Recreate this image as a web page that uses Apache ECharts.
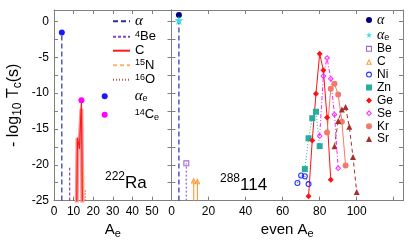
<!DOCTYPE html>
<html><head><meta charset="utf-8">
<script src="https://cdn.jsdelivr.net/npm/echarts@6/dist/echarts.min.js"></script>
<style>html,body{margin:0;padding:0;background:#fff}#c{width:414px;height:244px}</style>
</head><body><div id="c"></div>
<script>
// ---------------- data ----------------
const Y_MIN = -25, Y_MAX = 1.6;
const L_X_MAX = 60, R_X_MAX = 125;
const Y_TICK_LABELS = [-25, -20, -15, -10, -5, 0];
const X_LEFT_LABELS = [0, 10, 20, 30, 40, 50];
const X_RIGHT_LABELS = [0, 20, 40, 60, 80, 100];

// left panel: 222Ra
const L_ALPHA_A = [4], L_ALPHA_LOG = [-1.55];
const L_BE_A = [8], L_BE_LOG = [-20.4];
const L_C_A = [11, 12, 13, 14, 15];
const L_C_LOG = [-40, -16.2, -17.8, -11.0, -40];
const L_C_BROAD_LOG = [-40, -16.3, -17.5, -12.2, -40];
const L_N_A = [15], L_N_LOG = [-20.0];
const L_O_A = [16], L_O_LOG = [-23.3];
const L_ALPHAE_A = [4], L_ALPHAE_LOG = [-1.55];
const L_CE_A = [14], L_CE_LOG = [-11.0];

// right panel: 288 114
const R_ALPHA_A = [4], R_ALPHA_LOG = [0.9];
const R_ALPHAE_A = [4], R_ALPHAE_LOG = [0.15];
const BE_A = [8], BE_LOG = [-19.8];
const C_A = [12, 14], C_LOG = [-22.2, -22.3];
const NI_A = [68, 70, 72, 74], NI_LOG = [-22.55, -21.5, -21.6, -22.7];
const ZN_A = [72, 74, 76, 78, 80], ZN_LOG = [-20.6, -16.3, -13.5, -12.6, -17.4];
const GE_A = [74, 76, 78, 80, 82, 84, 86], GE_LOG = [-24.4, -16.6, -10.1, -4.5, -6.8, -13.4, -22.1];
const SE_A = [80, 82, 84, 86, 88, 90], SE_LOG = [-16.0, -7.6, -5.1, -8.0, -13.0, -20.5];
const KR_A = [84, 86, 88, 90, 92, 94], KR_LOG = [-15.5, -9.4, -8.7, -10.2, -14.0, -20.1];
const SR_A = [88, 90, 92, 94, 96, 98, 100], SR_LOG = [-17.4, -13.9, -12.3, -11.95, -14.7, -18.9, -23.8];

// ---------------- helpers ----------------
const FONT = '"Liberation Sans", Arial, Helvetica, sans-serif';
const SERIF = '"Liberation Serif", "DejaVu Serif", serif';
const AXIS_COLOR = '#808080';
const STAR = 'path://M0,-10L2.35,-3.24L9.51,-3.09L3.8,1.24L5.88,8.09L0,4L-5.88,8.09L-3.8,1.24L-9.51,-3.09L-2.35,-3.24Z';
// thin outline shapes (outer shape + reversed inner shape)
const RING = 'path://M5,0A5,5 0 1,1 5,10A5,5 0 1,1 5,0Z M5,1.8A3.2,3.2 0 1,0 5,8.2A3.2,3.2 0 1,0 5,1.8Z';
const SQ_RING = 'path://M0,0H10V10H0Z M1.8,1.8V8.2H8.2V1.8Z';
const TRI_RING = 'path://M5,0L10,10L0,10Z M5,3.8L2.7,8.6L7.3,8.6Z';
const DIA_RING = 'path://M5,0L10,5L5,10L0,5Z M5,2.3L2.3,5L5,7.7L7.7,5Z';

const pairs = (xs, ys) => xs.map((x, i) => [x, ys[i]]);
const inList = (v, list) => list.some(l => Math.abs(l - v) < 1e-6);

function rich(size, lh) {
  const s = Math.round(size * 0.72);
  return {
    t: { fontSize: size, fontFamily: FONT, color: '#000', lineHeight: lh },
    it: { fontSize: size + 2, fontFamily: SERIF, fontStyle: 'italic', color: '#000', lineHeight: lh },
    sup: { fontSize: s, fontFamily: FONT, color: '#000', verticalAlign: 'top', lineHeight: s },
    sub: { fontSize: s, fontFamily: FONT, color: '#000', verticalAlign: 'bottom', lineHeight: s },
    sp: { width: 22 }
  };
}

function xAx(grid, pos, max, interval, labels, name) {
  return {
    type: 'value', gridIndex: grid, position: pos, min: 0, max: max, interval: interval,
    axisLine: { show: true, onZero: false, lineStyle: { color: AXIS_COLOR, width: 1 } },
    axisTick: { show: true, inside: true, length: 4, lineStyle: { color: AXIS_COLOR } },
    axisLabel: { show: pos === 'bottom', color: '#000', fontSize: 12, fontFamily: FONT, margin: 5,
      formatter: v => inList(v, labels) ? String(v) : '' },
    splitLine: { show: false },
    name: name || '', nameLocation: 'middle', nameGap: 19,
    nameTextStyle: { rich: rich(15, 18) }
  };
}
function yAx(grid, pos, showLabel, name) {
  return {
    type: 'value', gridIndex: grid, position: pos, min: Y_MIN, max: Y_MAX, interval: 2.5,
    axisLine: { show: true, onZero: false, lineStyle: { color: AXIS_COLOR, width: 1 } },
    axisTick: { show: true, inside: true, length: 4, lineStyle: { color: AXIS_COLOR } },
    axisLabel: { show: showLabel, color: '#000', fontSize: 12, fontFamily: FONT, margin: 5,
      formatter: v => inList(v, Y_TICK_LABELS) ? String(v) : '' },
    splitLine: { show: false },
    name: name || '', nameLocation: 'middle', nameGap: 30,
    nameTextStyle: { rich: rich(16, 20) }
  };
}

function dropSeries(name, xs, ys, xi, color, type, width) {
  return xs.map((x, i) => ({
    name: i === 0 ? name : undefined, type: 'line', xAxisIndex: xi, yAxisIndex: xi,
    data: [[x, Y_MIN], [x, ys[i]]], symbol: 'none', silent: true,
    lineStyle: { color: color, type: type, width: width }, itemStyle: { color: color }, z: 2
  }));
}
function scat(name, xs, ys, xi, symbol, size, color) {
  return {
    name, type: 'scatter', xAxisIndex: xi, yAxisIndex: xi, data: pairs(xs, ys),
    symbol, symbolSize: size,
    itemStyle: { color: color, borderWidth: 0, opacity: 1 },
    z: 5
  };
}
function curve(name, xs, ys, symbol, size, color, ltype) {
  return {
    name, type: 'line', xAxisIndex: 2, yAxisIndex: 2, data: pairs(xs, ys),
    symbol, symbolSize: size, showSymbol: true,
    lineStyle: { color: color, type: ltype, width: 1 },
    itemStyle: { color: color, borderWidth: 0 },
    z: 4
  };
}

const LABELS = {
  L_alpha: '{it|α}', L_Be: '{sup|4}{t|Be}', L_C: '{t|C}', L_N: '{sup|15}{t|N}', L_O: '{sup|16}{t|O}',
  L_alpha_e: '{sp| }{it|α}{sub|e}', L_C_e: '{sp| }{sup|14}{t|C}{sub|e}',
  R_alpha: '{it|α}', R_alpha_e: '{it|α}{sub|e}', Be: '{t|Be}', C: '{t|C}', Ni: '{t|Ni}', Zn: '{t|Zn}',
  Ge: '{t|Ge}', Se: '{t|Se}', Kr: '{t|Kr}', Sr: '{t|Sr}'
};

const series = [].concat(
  [{ name: 'L_C_broad', type: 'line', xAxisIndex: 0, yAxisIndex: 0, data: pairs(L_C_A, L_C_BROAD_LOG),
     symbol: 'none', silent: true, lineStyle: { color: '#ff9494', width: 4 }, z: 1 }],
  dropSeries('L_alpha', L_ALPHA_A, L_ALPHA_LOG, 0, '#2d2d9f', [5, 3], 1.2),
  dropSeries('L_Be', L_BE_A, L_BE_LOG, 0, '#8d3fc4', [3, 2], 1.2),
  [{ name: 'L_C', type: 'line', xAxisIndex: 0, yAxisIndex: 0, data: pairs(L_C_A, L_C_LOG),
     symbol: 'none', lineStyle: { color: '#ff1a1a', width: 1.2 }, itemStyle: { color: '#ff1a1a' }, z: 3 }],
  dropSeries('L_N', L_N_A, L_N_LOG, 0, '#ffb366', [4, 3], 2),
  dropSeries('L_O', L_O_A, L_O_LOG, 0, '#c9504c', [1, 2], 1.5),
  [scat('L_alpha_e', L_ALPHAE_A, L_ALPHAE_LOG, 0, 'circle', 6, '#1a1aff'),
   scat('L_C_e', L_CE_A, L_CE_LOG, 0, 'circle', 6, '#ff00ff')],
  dropSeries('R_alpha_drop', R_ALPHA_A, R_ALPHA_LOG, 2, '#2b2bb0', [5, 3], 1.2),
  dropSeries('Be_drop', BE_A, BE_LOG, 2, '#a57dd2', [2, 2], 1.5),
  dropSeries('C_drop', C_A, C_LOG, 2, '#ffa040', 'solid', 1.2),
  [scat('R_alpha', R_ALPHA_A, R_ALPHA_LOG, 2, 'circle', 6, '#000080'),
   scat('R_alpha_e', R_ALPHAE_A, R_ALPHAE_LOG, 2, STAR, 9, '#33e3e3'),
   scat('Be', BE_A, BE_LOG, 2, SQ_RING, 6, '#9a6acb'),
   scat('C', C_A, C_LOG, 2, TRI_RING, 6, '#ff9a33'),
   curve('Ni', NI_A, NI_LOG, RING, 6, '#2233ff', [1, 2]),
   curve('Zn', ZN_A, ZN_LOG, 'rect', 6, '#26ada0', [1, 2]),
   curve('Ge', GE_A, GE_LOG, 'diamond', 6, '#ff1111', 'solid'),
   curve('Se', SE_A, SE_LOG, DIA_RING, 6, '#ff22ff', [4, 2, 1, 2]),
   curve('Kr', KR_A, KR_LOG, 'circle', 6, '#f27a6a', 'solid'),
   curve('Sr', SR_A, SR_LOG, 'triangle', 6, '#a5302e', [4, 3])]
);

const titleRich = {
  sup: { fontSize: 12, fontFamily: FONT, fontWeight: 'normal', color: '#000', verticalAlign: 'top', lineHeight: 12 },
  b: { fontSize: 17, fontFamily: FONT, fontWeight: 'normal', color: '#000', lineHeight: 24 }
};

const option = {
  animation: false,
  backgroundColor: '#fff',
  grid: [
    { left: 54, top: 10, width: 117.5, height: 194.5, containLabel: false },
    { left: 171.5, top: 10, width: 231.5, height: 194.5, containLabel: false }
  ],
  xAxis: [
    xAx(0, 'bottom', L_X_MAX, 10, X_LEFT_LABELS, '{t|A}{sub|e}'),
    xAx(0, 'top', L_X_MAX, 10, []),
    xAx(1, 'bottom', R_X_MAX, 20, X_RIGHT_LABELS, '{t|even A}{sub|e}'),
    xAx(1, 'top', R_X_MAX, 20, [])
  ],
  yAxis: [
    yAx(0, 'left', true, '{t|- log}{sub|10}{t| T}{sub|c}{t|(s)}'),
    yAx(0, 'right', false),
    yAx(1, 'left', false),
    yAx(1, 'right', false)
  ],
  title: [
    { text: '{sup|222}{b|Ra}', left: 105, top: 171, padding: 0, textStyle: { fontWeight: 'normal', rich: titleRich } },
    { text: '{sup|288}{b|114}', left: 220, top: 173, padding: 0, textStyle: { fontWeight: 'normal', rich: titleRich } }
  ],
  legend: [
    { orient: 'vertical', left: 112, top: 13.7, padding: 0, itemWidth: 17, itemHeight: 14, itemGap: 1,
      data: ['L_alpha', 'L_Be', 'L_C', 'L_N', 'L_O'],
      itemStyle: { color: 'rgba(0,0,0,0)', borderWidth: 0 },
      formatter: n => LABELS[n], textStyle: { rich: rich(13, 14) }, selectedMode: false },
    { orient: 'vertical', left: 101.7, top: 88.7, padding: 0, itemWidth: 6, itemHeight: 6, itemGap: 4,
      data: [{ name: 'L_alpha_e', icon: 'circle' }, { name: 'L_C_e', icon: 'circle' }],
      formatter: n => LABELS[n], textStyle: { rich: rich(13, 14) }, selectedMode: false },
    { orient: 'vertical', left: 366, top: 13, padding: 0, itemWidth: 6, itemHeight: 6, itemGap: 0.9,
      data: [{ name: 'R_alpha', icon: 'circle' }, { name: 'R_alpha_e', icon: STAR },
             { name: 'Be', icon: SQ_RING }, { name: 'C', icon: TRI_RING },
             { name: 'Ni', icon: RING }, { name: 'Zn', icon: 'rect' },
             { name: 'Ge', icon: 'diamond' }, { name: 'Se', icon: DIA_RING },
             { name: 'Kr', icon: 'circle' }, { name: 'Sr', icon: 'triangle' }],
      formatter: n => LABELS[n], textStyle: { rich: rich(12, 14) }, selectedMode: false }
  ],
  series: series
};
const chart = echarts.init(document.getElementById('c'));
chart.setOption(option);
</script></body></html>
